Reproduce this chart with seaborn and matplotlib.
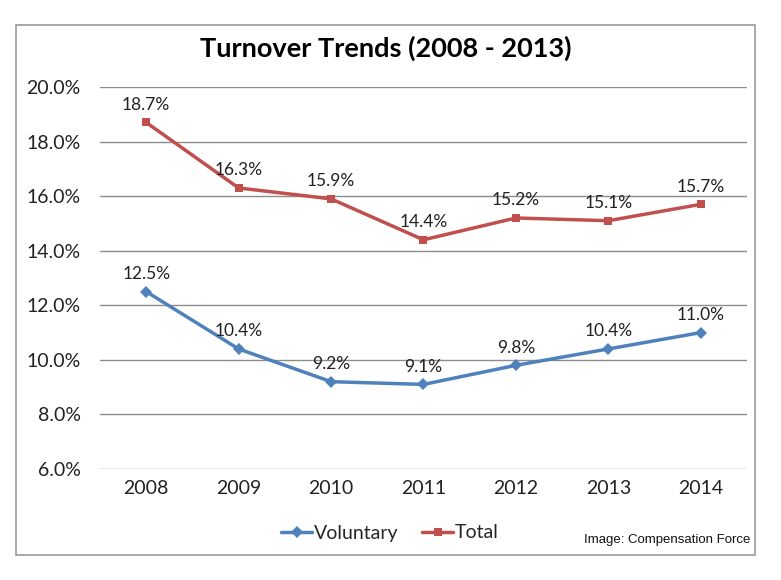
import matplotlib
matplotlib.use('Agg')
import matplotlib.pyplot as plt
import seaborn as sns
import pandas as pd
from matplotlib.patches import Rectangle
from matplotlib.ticker import FuncFormatter

# 数据
years = ['2008', '2009', '2010', '2011', '2012', '2013', '2014']
voluntary = [12.5, 10.4, 9.2, 9.1, 9.8, 10.4, 11.0]
total = [18.7, 16.3, 15.9, 14.4, 15.2, 15.1, 15.7]
y_ticks = [6, 8, 10, 12, 14, 16, 18, 20]

sns.set_style('white')
plt.rcParams['font.family'] = ['Lato', 'DejaVu Sans']

df = pd.DataFrame({
    'year': years * 2,
    'x': list(range(len(years))) * 2,
    'value': voluntary + total,
    'series': ['Voluntary'] * len(years) + ['Total'] * len(years),
})

palette = {'Voluntary': '#4F81BD', 'Total': '#C0504D'}
markers = {'Voluntary': 'D', 'Total': 's'}

W, H = 781, 580
fig = plt.figure(figsize=(7.81, 5.80), dpi=100)
ax = fig.add_axes([100 / W, 111 / H, 647 / W, 382 / H])

sns.lineplot(data=df, x='x', y='value', hue='series', style='series',
             markers=markers, dashes=False, palette=palette, linewidth=2.5,
             markersize=6, markeredgewidth=0, ax=ax)

ax.set_xlim(-0.5, len(years) - 0.5)
ax.set_ylim(6, 20)
ax.set_xticks(range(len(years)))
ax.set_xticklabels(years)
ax.set_yticks(y_ticks)
ax.yaxis.set_major_formatter(FuncFormatter(lambda v, p: f'{v:.1f}%'))
ax.tick_params(axis='both', length=0, labelsize=14, colors='#222222')
ax.tick_params(axis='y', pad=14)
ax.tick_params(axis='x', pad=8)
ax.grid(axis='y', color='#8c8c8c', linewidth=1)
ax.set_axisbelow(True)
for s in ax.spines.values():
    s.set_visible(False)
ax.set_xlabel('')
ax.set_ylabel('')

# 数据标签
for series in (voluntary, total):
    for i, v in enumerate(series):
        ax.annotate(f'{v:.1f}%', (i, v), xytext=(0, 7), textcoords='offset points',
                    ha='center', va='bottom', fontsize=12.5, color='#222222')

# 图例
handles, labels = ax.get_legend_handles_labels()
ax.legend(handles, labels, loc='center', bbox_to_anchor=(390 / W, 1 - 533 / H),
          bbox_transform=fig.transFigure, ncol=2, frameon=False, fontsize=14,
          handlelength=1.6, handletextpad=0.1, columnspacing=1.2)

fig.text(386 / W, 1 - 48 / H, 'Turnover Trends (2008 - 2013)', ha='center', va='center',
         fontsize=19.5, fontweight='bold', color='black')
fig.text(750 / W, 1 - 540 / H, 'Image: Compensation Force', ha='right', va='center',
         fontsize=9.5, family=['Liberation Sans', 'DejaVu Sans'], color='#111111')

fig.patches.append(Rectangle((16 / W, 1 - 555 / H), 739 / W, 530 / H, transform=fig.transFigure,
                             fill=False, edgecolor='#9a9a9a', linewidth=1.2))

fig.savefig('out.png', dpi=100)
